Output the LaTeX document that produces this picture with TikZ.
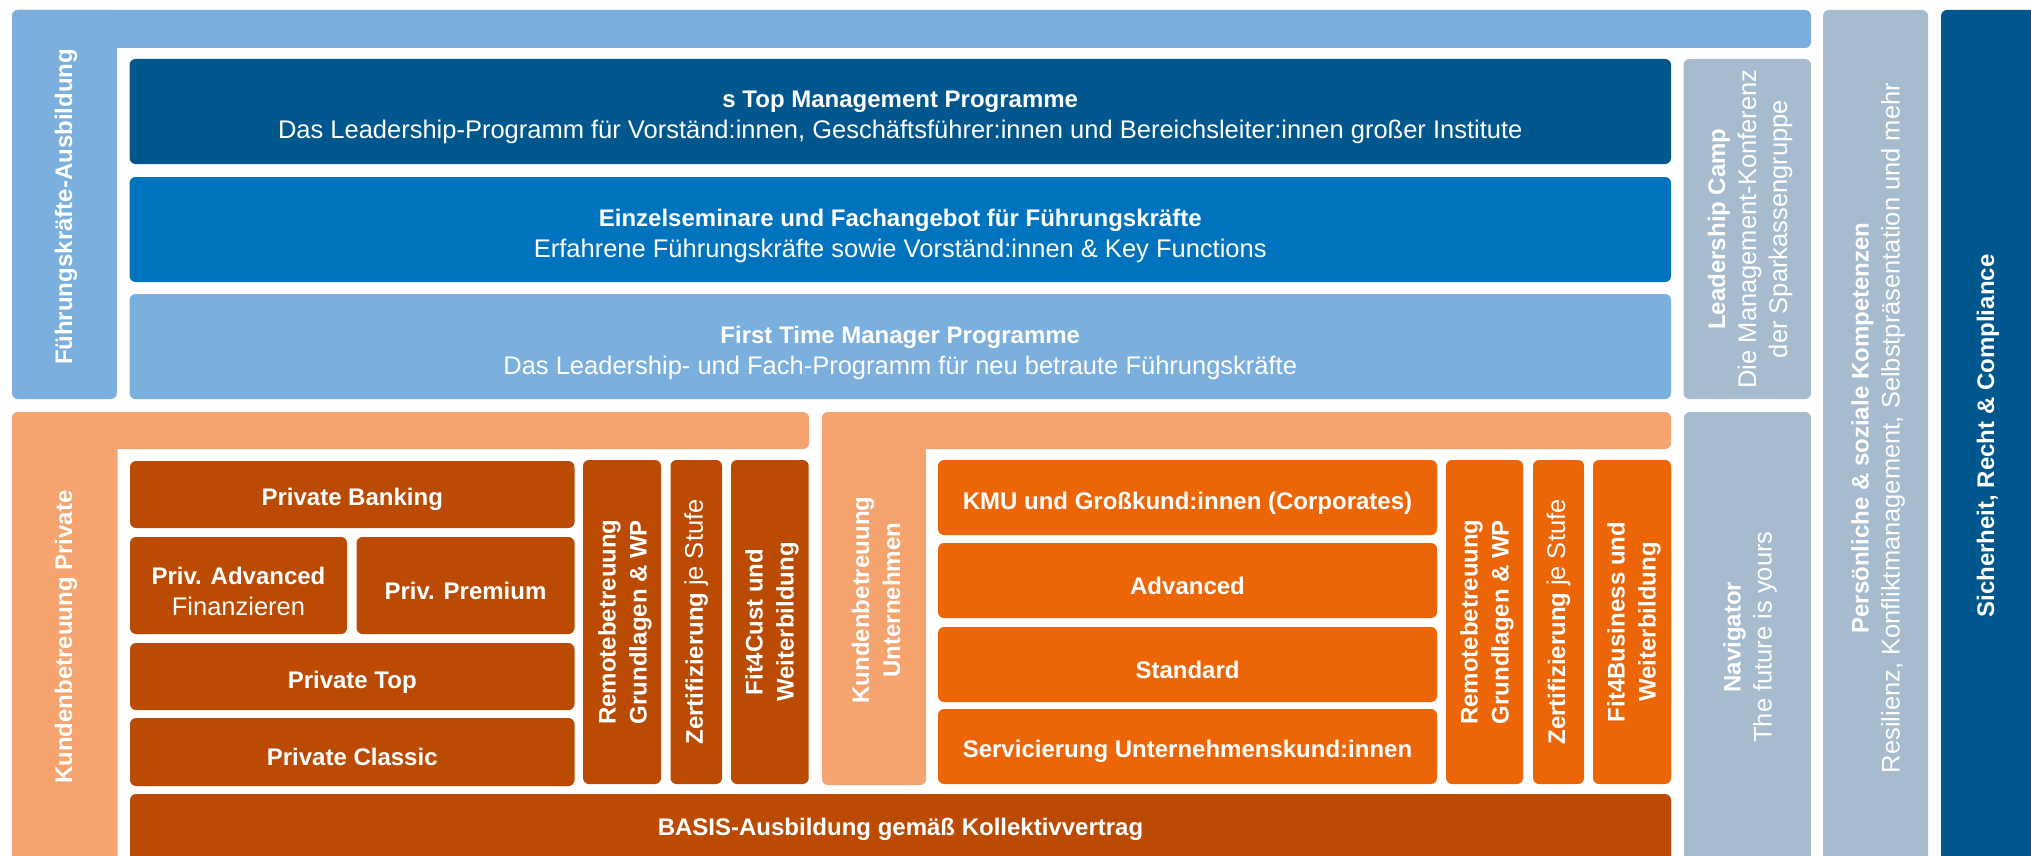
\documentclass[tikz,border=0pt]{standalone}
\usepackage{fontspec}
\setmainfont{Liberation Sans}
\usetikzlibrary{positioning}
\definecolor{FkBlue}{RGB}{123,175,222}
\definecolor{TopBlue}{RGB}{0,87,142}
\definecolor{MidBlue}{RGB}{0,115,190}
\definecolor{GreyBlue}{RGB}{167,187,207}
\definecolor{PaleOrange}{RGB}{245,164,111}
\definecolor{DeepOrange}{RGB}{187,74,3}
\definecolor{HotOrange}{RGB}{236,102,8}
\newcommand\boxfont{\fontsize{24}{31}\selectfont}
\newcommand\subfont{\fontsize{25.5}{31}\selectfont}
\tikzset{
  tile/.style={rounded corners=6pt, inner sep=0pt, text=white, align=center, font=\boxfont,
    execute at begin node={\rule{0pt}{28pt}}},
  tiletext/.style={inner sep=0pt, text=white, align=center, font=\boxfont},
  frame/.style={rounded corners=6pt},
  vlabel/.style={rotate=90, text=white, align=center, font=\boxfont, inner sep=0pt},
}

\begin{document}
\begin{tikzpicture}[x=1pt, y=-1pt]
  \useasboundingbox (0,0) rectangle (2031,856);
  \clip (0,0) rectangle (2031,856);
  % Führungskräfte frame
  \fill[frame, FkBlue] (12,10) rectangle (1811,48);
  \fill[frame, FkBlue] (12,10) rectangle (117,399);
  \node[vlabel] (fklabel) at (66,207) {\textbf{Führungskräfte-Ausbildung}};
  \node[tile, fill=TopBlue, minimum width=1541.5pt, minimum height=105pt] (topmgmt) at (900.25,111.5) {};
  \node[tiletext] at ([yshift=-6pt]topmgmt.center)
    {\textbf{s Top Management Programme}\\\subfont Das Leadership-Programm für Vorständ:innen, Geschäftsführer:innen und Bereichsleiter:innen großer Institute};
  \node[tile, fill=MidBlue, minimum width=1541.5pt, minimum height=105pt] (einzel) at (900.25,229.5) {};
  \node[tiletext] at ([yshift=-6pt]einzel.center)
    {\textbf{Einzelseminare und Fachangebot für Führungskräfte}\\\subfont Erfahrene Führungskräfte sowie Vorständ:innen \& Key Functions};
  \node[tile, fill=FkBlue, minimum width=1541.5pt, minimum height=105pt] (firsttime) at (900.25,346.5) {};
  \node[tiletext] at ([yshift=-6pt]firsttime.center)
    {\textbf{First Time Manager Programme}\\\subfont Das Leadership- und Fach-Programm für neu betraute Führungskräfte};
  \node[tile, fill=GreyBlue, minimum width=127.5pt, minimum height=340pt] (camp) at (1747.25,229) {};
  \node[vlabel] (camplabel) at (1750,229) {\textbf{Leadership Camp}\\\subfont Die Management-Konferenz\\\subfont der Sparkassengruppe};
  % right columns
  \fill[frame, GreyBlue] (1823,10) rectangle (1928,880);
  \node[vlabel] (perslabel) at (1878,428) {\textbf{Persönliche \& soziale Kompetenzen}\\\subfont Resilienz, Konfliktmanagement, Selbstpräsentation und mehr};
  \fill[frame, TopBlue] (1941,10) rectangle (2060,880);
  \node[vlabel] (sicherlabel) at (1988,436) {\textbf{Sicherheit, Recht \& Compliance}};
  \fill[frame, GreyBlue] (1684,412) rectangle (1811,880);
  \node[vlabel] (navlabel) at (1750,637) {\textbf{Navigator}\\\subfont The future is yours};
  % Kundenbetreuung Private
  \fill[frame, PaleOrange] (12,412) rectangle (809,449);
  \fill[frame, PaleOrange] (12,412) rectangle (117.5,880);
  \node[vlabel] (privlabel) at (66,637) {\textbf{Kundenbetreuung Private}};
  \node[tile, fill=DeepOrange, minimum width=444.5pt, minimum height=67pt] (pbanking) at (352.25,494.5) {\textbf{Private Banking}};
  \node[tile, fill=DeepOrange, minimum width=217pt, minimum height=97pt] (padvanced) at (238.5,585.5) {};
  \node[tiletext] at ([yshift=-6pt]padvanced.center) {\textbf{Priv. Advanced}\\\subfont Finanzieren};
  \node[tile, fill=DeepOrange, minimum width=218pt, minimum height=97pt] (ppremium) at (465.5,585.5) {\textbf{Priv. Premium}};
  \node[tile, fill=DeepOrange, minimum width=444.5pt, minimum height=67pt] (ptop) at (352.25,676.5) {\textbf{Private Top}};
  \node[tile, fill=DeepOrange, minimum width=444.5pt, minimum height=68pt] (pclassic) at (352.25,752) {\textbf{Private Classic}};
  \node[tile, fill=DeepOrange, minimum width=78pt, minimum height=324pt] (premote) at (622,622) {};
  \node[vlabel] at (625,622) {\textbf{Remotebetreuung}\\\textbf{Grundlagen \& WP}};
  \node[tile, fill=DeepOrange, minimum width=51.5pt, minimum height=324pt] (pzert) at (696.25,622) {};
  \node[vlabel] at (pzert) {\textbf{Zertifizierung} {\subfont je Stufe}};
  \node[tile, fill=DeepOrange, minimum width=77.7pt, minimum height=324pt] (pfit) at (769.85,622) {};
  \node[vlabel] at (772,622) {\textbf{Fit4Cust und}\\\textbf{Weiterbildung}};
  \node[tile, fill=DeepOrange, minimum width=1541pt, minimum height=86pt] (basis) at (900.5,837) {};
  \node[tiletext] at (900.5,829) {\textbf{BASIS-Ausbildung gemäß Kollektivvertrag}};
  % Kundenbetreuung Unternehmen
  \fill[frame, PaleOrange] (822,412) rectangle (1671,449);
  \fill[frame, PaleOrange] (822,412) rectangle (926,785);
  \node[vlabel] (unterlabel) at (876,600) {\textbf{Kundenbetreuung}\\\textbf{Unternehmen}};
  \node[tile, fill=HotOrange, minimum width=499pt, minimum height=75pt] (kmu) at (1187.5,497.5) {\textbf{KMU und Großkund:innen (Corporates)}};
  \node[tile, fill=HotOrange, minimum width=499pt, minimum height=75pt] (uadvanced) at (1187.5,580.5) {\textbf{Advanced}};
  \node[tile, fill=HotOrange, minimum width=499pt, minimum height=75pt] (ustandard) at (1187.5,664.5) {\textbf{Standard}};
  \node[tile, fill=HotOrange, minimum width=499pt, minimum height=75pt] (uservice) at (1187.5,746.5) {\textbf{Servicierung Unternehmenskund:innen}};
  \node[tile, fill=HotOrange, minimum width=77pt, minimum height=324pt] (uremote) at (1484.5,622) {};
  \node[vlabel] at (1487,622) {\textbf{Remotebetreuung}\\\textbf{Grundlagen \& WP}};
  \node[tile, fill=HotOrange, minimum width=51pt, minimum height=324pt] (uzert) at (1558.5,622) {};
  \node[vlabel] at (uzert) {\textbf{Zertifizierung} {\subfont je Stufe}};
  \node[tile, fill=HotOrange, minimum width=78pt, minimum height=324pt] (ufit) at (1632,622) {};
  \node[vlabel] at (1634,622) {\textbf{Fit4Business und}\\\textbf{Weiterbildung}};
\end{tikzpicture}
\end{document}
